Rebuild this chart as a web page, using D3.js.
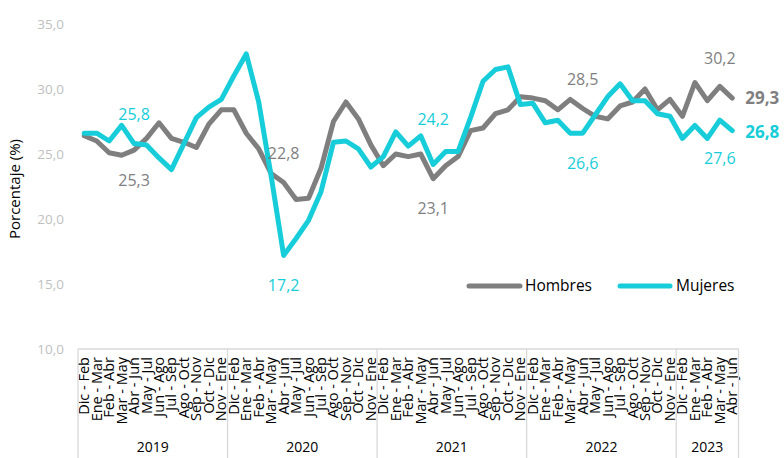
<!DOCTYPE html>
<html>
<head>
<meta charset="utf-8">
<script src="https://cdn.jsdelivr.net/npm/d3@7"></script>
<style>
  html, body { margin: 0; padding: 0; background: #fff; }
  svg { display: block; font-family: "Open Sans", sans-serif; }
</style>
</head>
<body>
<svg id="chart" width="784" height="458"></svg>
<script>
// ---------- DATA ----------
const periodNames = ["Dic - Feb","Ene - Mar","Feb - Abr","Mar - May","Abr - Jun","May - Jul",
  "Jun - Ago","Jul - Sep","Ago - Oct","Sep - Nov","Oct - Dic","Nov - Ene"];
const years = ["2019","2020","2021","2022","2023"];
const periodsPerYear = [12, 12, 12, 12, 5];

const hombres = [
  26.4, 26.0, 25.1, 24.9, 25.3, 26.2, 27.4, 26.2, 25.9, 25.5, 27.3, 28.4,
  28.4, 26.6, 25.4, 23.5, 22.8, 21.5, 21.6, 23.9, 27.5, 29.0, 27.7, 25.7,
  24.1, 25.0, 24.8, 25.0, 23.1, 24.1, 24.8, 26.8, 27.0, 28.1, 28.4, 29.4,
  29.3, 29.1, 28.4, 29.2, 28.5, 27.9, 27.7, 28.7, 29.0, 30.0, 28.4, 29.2,
  27.9, 30.5, 29.1, 30.2, 29.3
];
const mujeres = [
  26.6, 26.6, 26.0, 27.2, 25.8, 25.7, 24.7, 23.8, 25.8, 27.8, 28.6, 29.2,
  31.0, 32.7, 29.0, 23.3, 17.2, 18.5, 19.9, 22.1, 25.9, 26.0, 25.4, 24.0,
  24.8, 26.7, 25.6, 26.4, 24.2, 25.2, 25.2, 27.8, 30.6, 31.5, 31.7, 28.8,
  28.9, 27.4, 27.6, 26.6, 26.6, 28.0, 29.4, 30.4, 29.1, 29.1, 28.1, 27.9,
  26.2, 27.2, 26.2, 27.6, 26.8
];
const yTicks = [10, 15, 20, 25, 30, 35];
// indices of annotated points (Abr - Jun of each year, Mar - May 2023)
const labelIdx = [4, 16, 28, 40, 51];
const lastIdx = 52;
const seriesNames = ["Hombres", "Mujeres"];

// ---------- BUILD CATEGORIES ----------
const categories = [];
years.forEach((yr, yi) => {
  for (let k = 0; k < periodsPerYear[yi]; k++) {
    categories.push({ id: yr + "-" + k, label: periodNames[k], year: yr });
  }
});

// ---------- SETUP ----------
const svg = d3.select("#chart");
const grey = "#7f7f7f";
const cyan = "#17cdd9";
const axisGrey = "#d9d9d9";

const locale = d3.formatLocale({ decimal: ",", thousands: ".", grouping: [3], currency: ["", "€"] });
const fmt = locale.format(".1f");

const x = d3.scaleBand().domain(categories.map(d => d.id)).range([78, 738.5]).padding(0);
const y = d3.scaleLinear().domain([10, 35]).range([349, 24]);
const cx = i => x(categories[i].id) + x.bandwidth() / 2;

// ---------- Y AXIS ----------
const yAxis = d3.axisLeft(y).tickValues(yTicks).tickFormat(fmt).tickSize(0).tickPadding(0);
const gy = svg.append("g").attr("transform", "translate(64,0)").call(yAxis);
gy.select(".domain").remove();
gy.selectAll("text")
  .attr("fill", "#bfbfbf")
  .style("font-family", "'Open Sans', sans-serif")
  .style("font-size", "13.5px");

svg.append("text")
  .attr("transform", "translate(20,189) rotate(-90)")
  .attr("text-anchor", "middle")
  .attr("fill", "#000")
  .style("font-size", "15px")
  .text("Porcentaje (%)");

// ---------- X AXIS (grouped) ----------
const xAxisG = svg.append("g");
xAxisG.append("line")
  .attr("x1", 78).attr("x2", 738.5)
  .attr("y1", y(10)).attr("y2", y(10))
  .attr("stroke", axisGrey).attr("stroke-width", 1.3);

xAxisG.selectAll("text.cat")
  .data(categories)
  .join("text")
  .attr("class", "cat")
  .attr("transform", (d, i) => `translate(${cx(i) + 5},357) rotate(-90)`)
  .attr("text-anchor", "end")
  .attr("fill", "#000")
  .style("font-size", "14.5px")
  .text(d => d.label);

// year groups
let start = 0;
const bounds = [];
years.forEach((yr, yi) => {
  const s = start, e = start + periodsPerYear[yi] - 1;
  const x0 = x(categories[s].id), x1 = x(categories[e].id) + x.bandwidth();
  bounds.push({ yr, x0, x1 });
  start = e + 1;
});
const sepXs = [bounds[0].x0].concat(bounds.map(b => b.x1));
xAxisG.selectAll("line.sep")
  .data(sepXs)
  .join("line")
  .attr("class", "sep")
  .attr("x1", d => d).attr("x2", d => d)
  .attr("y1", y(10)).attr("y2", 458)
  .attr("stroke", axisGrey).attr("stroke-width", 1.3);
xAxisG.selectAll("text.year")
  .data(bounds)
  .join("text")
  .attr("class", "year")
  .attr("x", d => (d.x0 + d.x1) / 2)
  .attr("y", 452)
  .attr("text-anchor", "middle")
  .attr("fill", "#000")
  .style("font-size", "14px")
  .text(d => d.yr);

// ---------- LINES ----------
const line = d3.line().x((d, i) => cx(i)).y(d => y(d));
[[hombres, grey], [mujeres, cyan]].forEach(([data, col]) => {
  svg.append("path")
    .datum(data)
    .attr("d", line)
    .attr("fill", "none")
    .attr("stroke", col)
    .attr("stroke-width", 5)
    .attr("stroke-linejoin", "round")
    .attr("stroke-linecap", "round");
});

// ---------- DATA LABELS ----------
// per-label placement: above (-) or below (+) offsets
const hOff = { 4: 30, 16: -29, 28: 30, 40: -29, 51: -28 };
const mOff = { 4: -29, 16: 30, 28: -45, 40: 30, 51: 38 };
labelIdx.forEach(i => {
  svg.append("text")
    .attr("x", cx(i)).attr("y", y(hombres[i]) + hOff[i])
    .attr("dy", "0.35em")
    .attr("text-anchor", "middle")
    .attr("fill", grey)
    .style("font-size", "16px")
    .text(fmt(hombres[i]));
  svg.append("text")
    .attr("x", cx(i)).attr("y", y(mujeres[i]) + mOff[i])
    .attr("dy", "0.35em")
    .attr("text-anchor", "middle")
    .attr("fill", cyan)
    .style("font-size", "16px")
    .text(fmt(mujeres[i]));
});
svg.append("text")
  .attr("x", cx(lastIdx) + 13).attr("y", y(hombres[lastIdx]))
  .attr("dy", "0.35em")
  .attr("fill", grey)
  .style("font-size", "17px").style("font-weight", "bold")
  .text(fmt(hombres[lastIdx]));
svg.append("text")
  .attr("x", cx(lastIdx) + 13).attr("y", y(mujeres[lastIdx]) + 1)
  .attr("dy", "0.35em")
  .attr("fill", cyan)
  .style("font-size", "17px").style("font-weight", "bold")
  .text(fmt(mujeres[lastIdx]));

// ---------- LEGEND ----------
const legend = [
  { name: seriesNames[0], col: grey, x0: 469, x1: 520, tx: 525 },
  { name: seriesNames[1], col: cyan, x0: 620, x1: 670, tx: 676 }
];
const lg = svg.append("g");
legend.forEach(l => {
  lg.append("line")
    .attr("x1", l.x0).attr("x2", l.x1).attr("y1", 286).attr("y2", 286)
    .attr("stroke", l.col).attr("stroke-width", 5).attr("stroke-linecap", "round");
  lg.append("text")
    .attr("x", l.tx).attr("y", 286).attr("dy", "0.35em")
    .attr("fill", "#000").style("font-size", "15.5px")
    .text(l.name);
});
</script>
</body>
</html>
